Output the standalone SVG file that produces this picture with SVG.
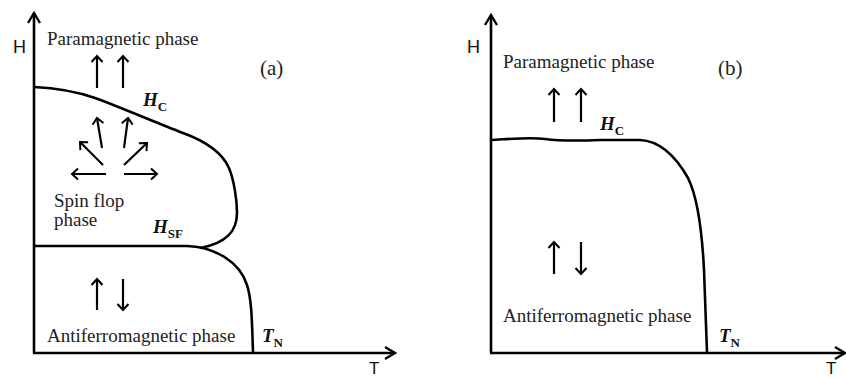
<svg xmlns="http://www.w3.org/2000/svg" width="846" height="378" viewBox="0 0 846 378">
<defs>
<marker id="ah" markerUnits="userSpaceOnUse" markerWidth="20" markerHeight="20" refX="10" refY="10" orient="auto" overflow="visible">
<path d="M0,4 L10,10 L0,16" fill="none" stroke="#000" stroke-width="2.4"/>
</marker>
<marker id="sa" markerUnits="userSpaceOnUse" markerWidth="16" markerHeight="16" refX="8" refY="8" orient="auto" overflow="visible">
<path d="M2,2.5 L8,8 L2,13.5" fill="none" stroke="#000" stroke-width="2"/>
</marker>
<style>
.ax{fill:none;stroke:#000;stroke-width:2.6;marker-end:url(#ah)}
.cv{fill:none;stroke:#000;stroke-width:2.6}
.sp{fill:none;stroke:#000;stroke-width:2.2;marker-end:url(#sa)}
.lbl{font-family:"Liberation Serif","Times New Roman",serif;font-size:19px;fill:#222}
.tag{font-family:"Liberation Serif","Times New Roman",serif;font-size:21px;fill:#222}
.axl{font-family:"Liberation Sans",Arial,sans-serif;font-size:18px;fill:#111}
.axt{font-family:"Liberation Sans",Arial,sans-serif;font-size:17px;fill:#111}
.var{font-family:"Liberation Serif","Times New Roman",serif;font-size:19px;font-weight:bold;font-style:italic;fill:#111}
.sub{font-style:normal;font-size:13px}
</style>
</defs>

<g id="panel-a">
<g id="axes-a">
<path class="ax" d="M34,353 L34,13"/>
<path class="ax" d="M33,353 L395,353"/>
<text class="axl" x="13" y="53">H</text>
<text class="axt" x="369" y="374">T</text>
</g>
<g id="curves-a">
<path class="cv" d="M34,87 C55,88 78,92 95,98 C112,104 150,120 183,133 C205,141 222,152 229,168 C234,180 237,200 237,213 C237,230 228,243 200,248"/>
<path class="cv" d="M34,246 L187,246 C215,247 240,262 247,285 C252,300 252,325 253,352"/>
</g>
<g id="para-a">
<text class="lbl" x="47" y="45">Paramagnetic phase</text>
<path class="sp" d="M97,88 L97,56"/>
<path class="sp" d="M123,88 L123,56"/>
</g>
<text class="tag" x="260" y="75">(a)</text>
<text class="var" x="143" y="106">H<tspan class="sub" dy="5">C</tspan></text>
<g id="spinflop-a">
<path class="sp" d="M102,148 L97,118"/>
<path class="sp" d="M124,148 L128,118"/>
<path class="sp" d="M103,165 L80,142"/>
<path class="sp" d="M124,165 L147,143"/>
<path class="sp" d="M106,174 L72,174"/>
<path class="sp" d="M124,174 L157,174"/>
<text class="lbl" x="54" y="207">Spin flop</text>
<text class="lbl" x="54" y="226">phase</text>
</g>
<text class="var" x="153" y="233">H<tspan class="sub" dy="5">SF</tspan></text>
<g id="af-a">
<path class="sp" d="M97,310 L97,279"/>
<path class="sp" d="M123,279 L123,310"/>
<text class="lbl" x="47" y="342">Antiferromagnetic phase</text>
</g>
<text class="var" x="262" y="342">T<tspan class="sub" dy="5">N</tspan></text>
</g>

<g id="panel-b">
<g id="axes-b">
<path class="ax" d="M491,353 L491,15"/>
<path class="ax" d="M490,353 L845,353"/>
<text class="axl" x="467" y="53">H</text>
<text class="axt" x="826" y="374">T</text>
</g>
<g id="curves-b">
<path class="cv" d="M491,140 C510,139 530,137 545,139 C560,141 575,141 600,140 L640,140 C660,141 675,155 688,178 C698,198 702,230 704,270 L707,352"/>
</g>
<g id="para-b">
<text class="lbl" x="503" y="68">Paramagnetic phase</text>
<path class="sp" d="M554,122 L554,89"/>
<path class="sp" d="M581,122 L581,89"/>
</g>
<text class="tag" x="718" y="75">(b)</text>
<text class="var" x="600" y="130">H<tspan class="sub" dy="5">C</tspan></text>
<g id="af-b">
<path class="sp" d="M554,274 L554,242"/>
<path class="sp" d="M581,242 L581,274"/>
<text class="lbl" x="503" y="322">Antiferromagnetic phase</text>
</g>
<text class="var" x="719" y="342">T<tspan class="sub" dy="5">N</tspan></text>
</g>
</svg>
